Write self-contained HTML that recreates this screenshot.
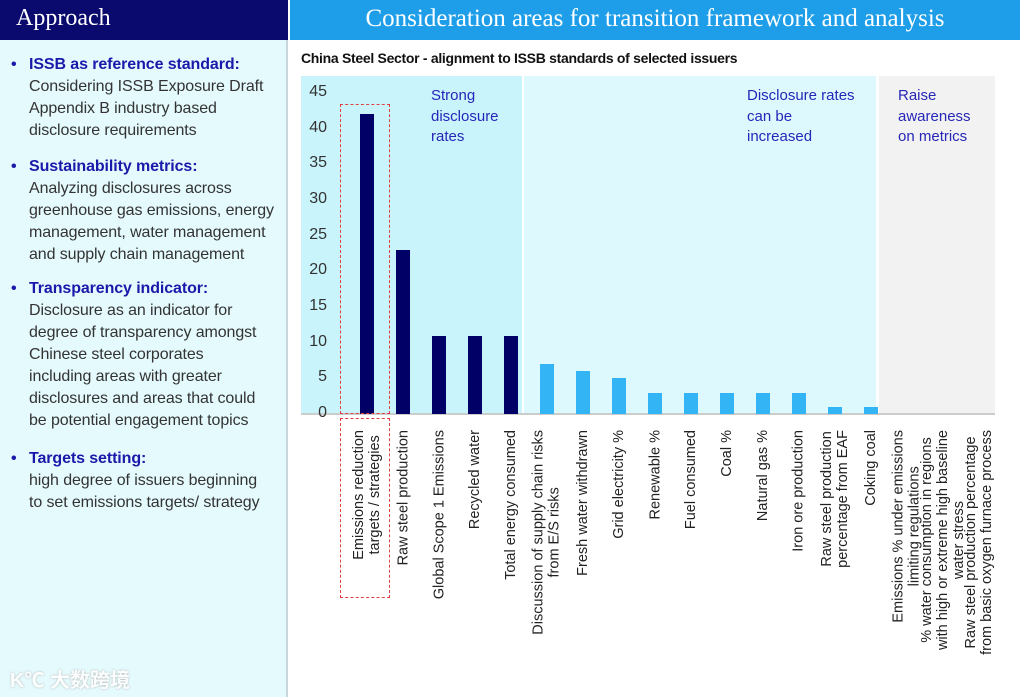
<!DOCTYPE html>
<html><head><meta charset="utf-8">
<style>
*{margin:0;padding:0;box-sizing:border-box}
body{width:1020px;height:697px;position:relative;background:#fff;font-family:"Liberation Sans","Noto Sans CJK SC",sans-serif;overflow:hidden}
.abs{position:absolute}
#left{left:0;top:0;width:288px;height:697px;background:#e4fafd;border-right:2px solid #c9d6de}
#lhead{left:0;top:0;width:288px;height:40px;background:#0a0a6e;color:#fff;font-family:"Liberation Serif",serif;font-size:24px;padding:5px 0 0 16px}
#rhead{left:290px;top:0;width:730px;height:40px;background:#1e9ee8;color:#fff;font-family:"Liberation Serif",serif;font-size:25px;text-align:center;padding-top:5px}
.item{position:absolute;left:29px;font-size:16px;line-height:22px;color:#333;letter-spacing:-0.1px}
.item b{color:#1a1aaa;display:block}
.item:before{content:"•";position:absolute;left:-18px;top:0;color:#1a1aaa;font-weight:bold}
.labw{position:absolute;top:430px;width:0;height:0}
.lab{position:absolute;right:0;top:0;transform-origin:right top;transform:rotate(-90deg) translateY(-50%);font-size:14.5px;line-height:16px;color:#222;white-space:nowrap;display:flex;flex-direction:column;align-items:center}
.ann{position:absolute;color:#2626b8;font-size:15px;line-height:20.5px}
</style></head><body>
<div id="left" class="abs"></div>
<div id="lhead" class="abs">Approach</div>
<div id="rhead" class="abs">Consideration areas for transition framework and analysis</div>
<div class="item" style="top:54px"><b>ISSB as reference standard:</b>Considering ISSB Exposure Draft<br>Appendix B industry based<br>disclosure requirements</div>
<div class="item" style="top:156px"><b>Sustainability metrics:</b>Analyzing disclosures across<br>greenhouse gas emissions, energy<br>management, water management<br>and supply chain management</div>
<div class="item" style="top:278px"><b>Transparency indicator:</b>Disclosure as an indicator for<br>degree of transparency amongst<br>Chinese steel corporates<br>including areas with greater<br>disclosures and areas that could<br>be potential engagement topics</div>
<div class="item" style="top:448px"><b>Targets setting:</b>high degree of issuers beginning<br>to set emissions targets/ strategy</div>
<div class="abs" style="left:10px;top:664px;color:#fff;font-size:20px;font-weight:bold;text-shadow:0 0 2px #aaa;opacity:.9">K℃ 大数跨境</div>
<div class="abs" style="left:301px;top:50px;font-size:14px;font-weight:bold;color:#111;letter-spacing:-0.3px">China Steel Sector - alignment to ISSB standards of selected issuers</div>
<div class="abs" style="left:301px;top:76px;width:221px;height:338px;background:#c9f4fc"></div>
<div class="abs" style="left:524px;top:76px;width:352px;height:338px;background:#def9fd"></div>
<div class="abs" style="left:879px;top:76px;width:116px;height:338px;background:#f2f2f2"></div>
<div class="ann" style="left:431px;top:86px">Strong<br>disclosure<br>rates</div>
<div class="ann" style="left:747px;top:86px">Disclosure rates<br>can be<br>increased</div>
<div class="ann" style="left:898px;top:86px">Raise<br>awareness<br>on metrics</div>
<div class="abs" style="left:301px;top:413px;width:694px;height:2px;background:#ccc"></div>
<div id="chart"></div>
<div class="abs" style="left:340px;top:104px;width:50px;height:310px;border:1.5px dashed #e04040"></div>
<div class="abs" style="left:340px;top:418px;width:50px;height:180px;border:1.5px dashed #e04040"></div>
<script>
const categories=["Emissions reduction<br>targets / strategies","Raw steel production","Global Scope 1 Emissions","Recycled water","Total energy consumed","Discussion of supply chain risks<br>from E/S risks","Fresh water withdrawn","Grid electricity %","Renewable %","Fuel consumed","Coal %","Natural gas %","Iron ore production","Raw steel production<br>percentage from EAF","Coking coal","Emissions % under emissions<br>limiting regulations","% water consumption in regions<br>with high or extreme high baseline<br>water stress","Raw steel production percentage<br>from basic oxygen furnace process"];
const values=[42,23,11,11,11,7,6,5,3,3,3,3,3,1,1,0,0,0];
const groups=["strong","strong","strong","strong","strong","mid","mid","mid","mid","mid","mid","mid","mid","mid","mid","low","low","low"];
const yTicks=[0,5,10,15,20,25,30,35,40,45];
const y0=414,yScale=(414-93)/45;
const yPos=v=>y0-v*yScale;
const xPos=i=>367+36*i;
const c=document.getElementById('chart');
yTicks.forEach(t=>{
  const d=document.createElement('div');
  
  
  d.className='abs';
  d.style.cssText=`left:296px;width:31px;text-align:right;top:${yPos(t)-10}px;font-size:16px;color:#333`;
  d.textContent=t;c.appendChild(d);
});
values.forEach((v,i)=>{
  const b=document.createElement('div');
  
  
  b.className='abs';
  const h=v*yScale;
  b.style.cssText=`left:${xPos(i)-7}px;width:14px;top:${y0-h}px;height:${h}px;background:${groups[i]==='strong'?'#000066':'#33b4f5'}`;
  c.appendChild(b);
  const w=document.createElement('div');
  
  
  w.className='labw';
  w.style.left=xPos(i)+'px';
  const l=document.createElement('div');
  
  
  l.className='lab';
  categories[i].split('<br>').forEach(t=>{
    const s=document.createElement('span');
    s.textContent=t;
    l.appendChild(s);
  });
  w.appendChild(l);c.appendChild(w);
});
</script>
</body></html>
